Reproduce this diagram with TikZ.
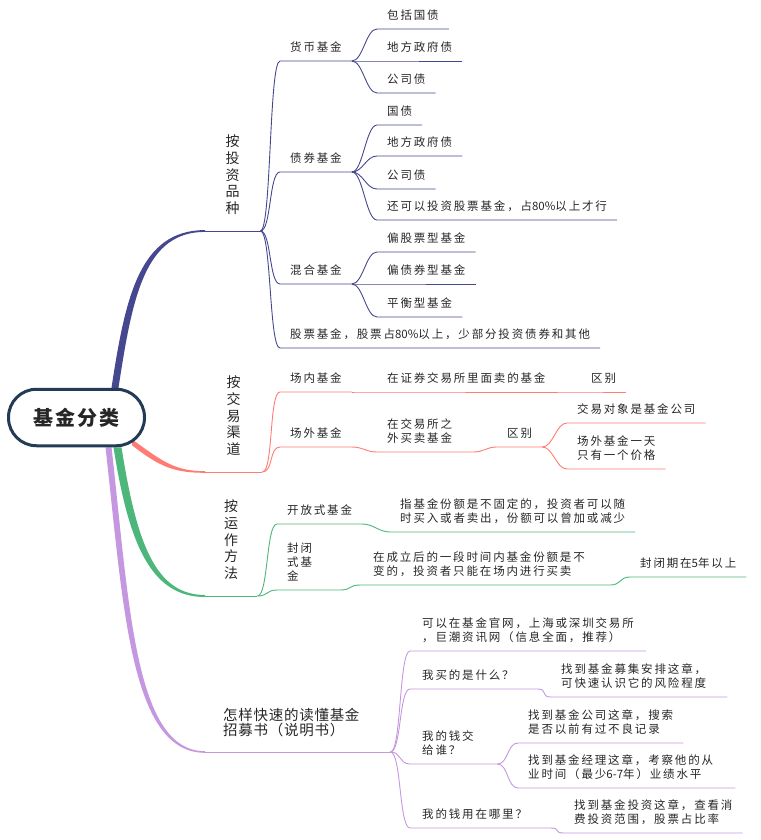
\documentclass[tikz,border=0pt]{standalone}
\usepackage{fontspec}
\newfontfamily\leaffont{Noto Sans CJK SC}[LetterSpace=16]
\newfontfamily\numfont{Noto Sans CJK SC}
\newfontfamily\catfont{Noto Sans CJK SC}
\newfontfamily\readfont{Noto Sans CJK SC}[LetterSpace=5]
\newfontfamily\rootfont{Noto Sans CJK SC}[LetterSpace=10]
\usetikzlibrary{backgrounds}
\definecolor{nv}{HTML}{45478F}
\definecolor{rd}{HTML}{FF7B74}
\definecolor{gn}{HTML}{4CB67B}
\definecolor{pp}{HTML}{C497E0}
\definecolor{rootc}{HTML}{243B55}
\definecolor{ink}{HTML}{262626}
\tikzset{
	root/.style={draw=rootc, line width=3pt, fill=white, rounded corners=28pt, minimum width=136pt, minimum height=56.5pt, inner sep=0pt, text=ink, font=\rootfont\bfseries\fontsize{20}{24}\selectfont},
	cat/.style={anchor=south west, inner xsep=0pt, inner ysep=12pt, align=center, text=ink, font=\catfont\fontsize{14}{16.8}\selectfont, execute at end node=\strut},
	leaf/.style={anchor=south west, inner xsep=10pt, inner ysep=5.5pt, align=left, text=ink, font=\leaffont\fontsize{11.5}{13.8}\selectfont, execute at end node=\strut},
	nvl/.style={draw=nv, line width=0.9pt},
	rdl/.style={draw=rd, line width=0.9pt},
	gnl/.style={draw=gn, line width=0.9pt},
	ppl/.style={draw=pp, line width=0.9pt}
}

\begin{document}
\begin{tikzpicture}[x=1pt, y=-1pt]
	\useasboundingbox (0,0) rectangle (760,840);

	\node[root] (root) at (76.5,417.5) {基金分类};

	\node[cat, minimum width=55pt] (inv) at (205,231) {按\\投\\资\\品\\种};
	\node[cat, minimum width=57pt] (chan) at (205,472) {按\\交\\易\\渠\\道};
	\node[cat, minimum width=52pt] (oper) at (205,596) {按\\运\\作\\方\\法};
	\node[cat, align=left, text width=149pt, inner xsep=18pt, font=\readfont\fontsize{14.5}{15}\selectfont] (read) at (205,752) {怎样快速的读懂基金\\招募书（说明书）};

	\node[leaf] (m1) at (280,61) {货币基金};
	\node[leaf] (m1a) at (377,29) {包括国债};
	\node[leaf] (m1b) at (377,61) {地方政府债};
	\node[leaf] (m1c) at (377,93) {公司债};
	\node[leaf] (m2) at (280,172) {债券基金};
	\node[leaf] (m2a) at (377,125) {国债};
	\node[leaf] (m2b) at (377,156) {地方政府债};
	\node[leaf] (m2c) at (377,189) {公司债};
	\node[leaf] (m2d) at (377,220) {还可以投资股票基金，占{\numfont 80\%}以上才行};
	\node[leaf] (m3) at (280,284) {混合基金};
	\node[leaf] (m3a) at (377,252) {偏股票型基金};
	\node[leaf] (m3b) at (377,284) {偏债券型基金};
	\node[leaf] (m3c) at (377,317) {平衡型基金};
	\node[leaf] (m4) at (280,348) {股票基金，股票占{\numfont 80\%}以上，少部分投资债券和其他};

	\node[leaf] (t1) at (280,392) {场内基金};
	\node[leaf] (t1a) at (377,392) {在证券交易所里面卖的基金};
	\node[leaf] (t1b) at (581,392) {区别};
	\node[leaf] (t2) at (280,447) {场外基金};
	\node[leaf, text width=76pt] (t2a) at (377,452) {在交易所之\\外买卖基金};
	\node[leaf] (t2b) at (497,447) {区别};
	\node[leaf] (t2c) at (567,423) {交易对象是基金公司};
	\node[leaf] (t2d) at (567,469) {场外基金一天\\只有一个价格};

	\node[leaf] (o1) at (277,524) {开放式基金};
	\node[leaf] (o1a) at (390,532) {指基金份额是不固定的，投资者可以随\\时买入或者卖出，份额可以曾加或减少};
	\node[leaf, text width=43pt] (o2) at (277,590) {封闭\\式基\\金};
	\node[leaf, inner xsep=13pt, text width=224pt] (o2a) at (360,585) {在成立后的一段时间内基金份额是不\\变的，投资者只能在场内进行买卖};
	\node[leaf] (o2b) at (630,577) {封闭期在{\numfont 5}年以上};

	\node[leaf, inner xsep=12pt] (r1) at (410,651) {可以在基金官网，上海或深圳交易所\\，巨潮资讯网（信息全面，推荐）};
	\node[leaf, inner xsep=12pt, text width=103pt] (r2) at (410,689) {我买的是什么？};
	\node[leaf, text width=156pt] (r2a) at (551,697) {找到基金募集安排这章，\\可快速认识它的风险程度};
	\node[leaf, inner xsep=12pt, text width=63pt] (r3) at (410,764) {我的钱交\\给谁？};
	\node[leaf] (r3a) at (518,743) {找到基金公司这章，搜索\\是否以前有过不良记录};
	\node[leaf, text width=197pt] (r3b) at (518,788) {找到基金经理这章，考察他的从\\业时间（最少{\numfont 6-7}年）业绩水平};
	\node[leaf, inner xsep=12pt, text width=116pt] (r4) at (410,828) {我的钱用在哪里？};
	\node[leaf] (r4a) at (564,833) {找到基金投资这章，查看消\\费投资范围，股票占比率};

	\begin{pgfonlayer}{background}
		\fill[nv] ([xshift=35pt]root.north) .. controls +(14,-92) and +(-65,0) .. ([yshift=0.9pt]inv.south west) -- ([yshift=-0.9pt]inv.south west) .. controls +(-60,0) and +(14,-92) .. ([xshift=42pt]root.north) -- cycle;
		\fill[rd] ([xshift=-14pt,yshift=8pt]root.south east) .. controls +(30,22) and +(-30,0) .. ([yshift=0.8pt]chan.south west) -- ([yshift=-0.8pt]chan.south west) .. controls +(-30,0) and +(28,22) .. ([xshift=-14pt,yshift=2pt]root.south east) -- cycle;
		\fill[gn] ([xshift=37pt]root.south) .. controls +(15,95) and +(-55,0) .. ([yshift=-1pt]oper.south west) -- ([yshift=1pt]oper.south west) .. controls +(-50,0) and +(15,95) .. ([xshift=45pt]root.south) -- cycle;
		\fill[pp] ([xshift=29pt]root.south) .. controls +(18,160) and +(-75,0) .. ([yshift=-0.8pt]read.south west) -- ([yshift=0.8pt]read.south west) .. controls +(-70,0) and +(18,160) .. ([xshift=35pt]root.south) -- cycle;
	\end{pgfonlayer}

	\draw[nvl] (inv.south west) -- (inv.south east);
	\draw[rdl] (chan.south west) -- (chan.south east);
	\draw[gnl] (oper.south west) -- (oper.south east);
	\draw[ppl] (read.south west) -- (read.south east);

	\foreach \a/\b in {inv/m1, inv/m2, inv/m3, inv/m4, m1/m1a, m1/m1b, m1/m1c, m2/m2a, m2/m2b, m2/m2c, m2/m2d, m3/m3a, m3/m3b, m3/m3c} {
		\draw[nvl] (\a.south east) .. controls +(11,0) and +(-11,0) .. (\b.south west) -- (\b.south east);
	}
	\foreach \a/\b in {chan/t1, t1/t1a, t1a/t1b, chan/t2, t2/t2a, t2a/t2b, t2b/t2c, t2b/t2d} {
		\draw[rdl] (\a.south east) .. controls +(11,0) and +(-11,0) .. (\b.south west) -- (\b.south east);
	}
	\foreach \a/\b in {oper/o1, o1/o1a, oper/o2, o2/o2a, o2a/o2b} {
		\draw[gnl] (\a.south east) .. controls +(11,0) and +(-11,0) .. (\b.south west) -- (\b.south east);
	}
	\foreach \a/\b in {read/r1, read/r2, r2/r2a, read/r3, r3/r3a, r3/r3b, read/r4, r4/r4a} {
		\draw[ppl] (\a.south east) .. controls +(11,0) and +(-11,0) .. (\b.south west) -- (\b.south east);
	}
\end{tikzpicture}
\end{document}
